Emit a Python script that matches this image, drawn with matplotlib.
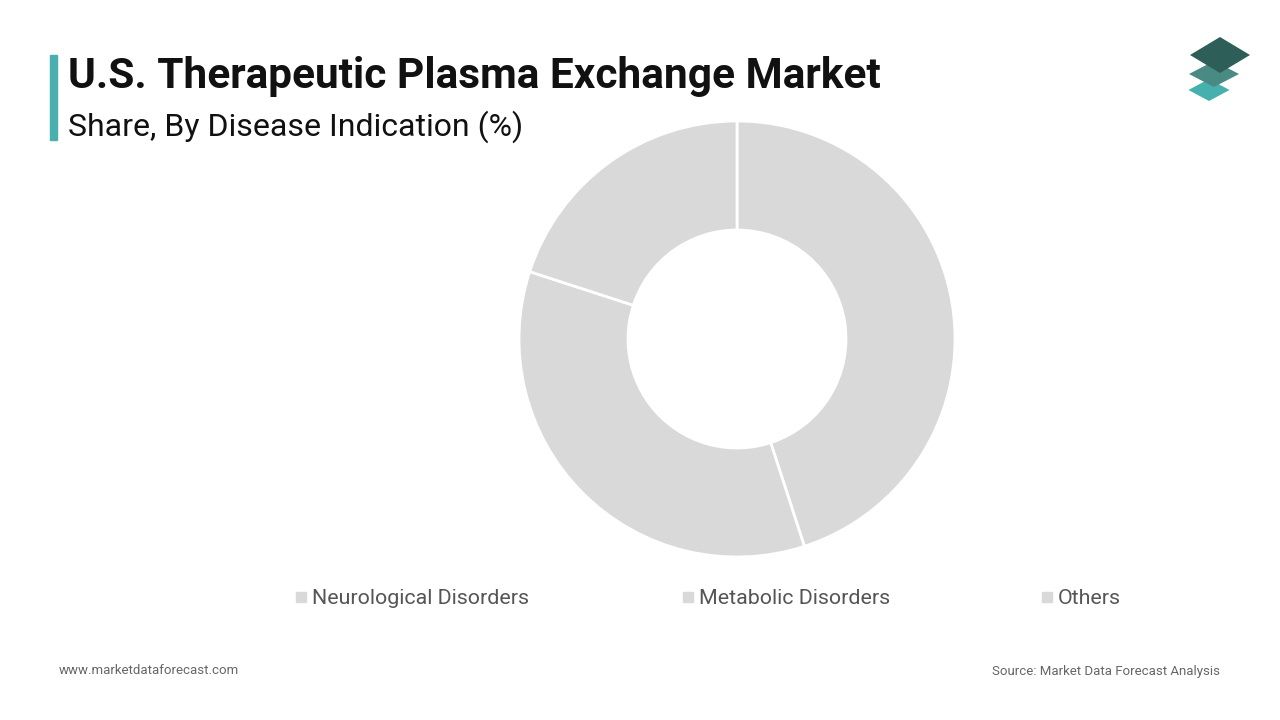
import matplotlib
matplotlib.use("Agg")
import matplotlib.pyplot as plt
from matplotlib.patches import Rectangle, Polygon

plt.rcParams['font.family'] = ['Roboto', 'DejaVu Sans']

categories = ["Neurological Disorders", "Metabolic Disorders", "Others"]
shares = [45, 35, 20]
slice_colors = ["#d9d9d9", "#d9d9d9", "#d9d9d9"]
title = "U.S. Therapeutic Plasma Exchange Market"
subtitle = "Share, By Disease Indication (%)"
footer_left = "www.marketdataforecast.com"
footer_right = "Source: Market Data Forecast Analysis"

W, H = 1280, 720
fig = plt.figure(figsize=(W / 100, H / 100), dpi=100)
fig.patch.set_facecolor("white")

# donut
cx, cy, R = 737, 339, 218
ax = fig.add_axes([(cx - R) / W, (H - cy - R) / H, 2 * R / W, 2 * R / H])
ax.pie(shares, colors=slice_colors, startangle=90, counterclock=False, radius=1,
       wedgeprops=dict(width=109 / 218, edgecolor="white", linewidth=2))
ax.set_xlim(-1, 1)
ax.set_ylim(-1, 1)
ax.set_aspect("auto")
ax.axis("off")

# accent bar
fig.patches.append(Rectangle((50 / W, (H - 140) / H), 7 / W, 85 / H,
                             transform=fig.transFigure, color="#4aafae"))

fig.text(68 / W, (H - 88) / H, title, fontsize=30.5, fontweight="bold",
         color="#111111", va="baseline", ha="left")
fig.text(68 / W, (H - 136) / H, subtitle, fontsize=23,
         color="#111111", va="baseline", ha="left")

# legend
leg_x = [296, 683, 1042]
for x, lab, col in zip(leg_x, categories, slice_colors):
    fig.patches.append(Rectangle((x / W, (H - 602) / H), 10 / W, 10 / H,
                                 transform=fig.transFigure, color=col))
    fig.text((x + 16) / W, (H - 598) / H, lab, fontsize=15.4, color="#555555",
             va="center", ha="left")

fig.text(59 / W, (H - 671) / H, footer_left, fontsize=9.5, color="#666666",
         va="center", ha="left")
fig.text(1220 / W, (H - 671) / H, footer_right, fontsize=9.5, color="#666666",
         va="center", ha="right")

# logo
def diamond(xc, yc, w, h, color):
    pts = [((xc - w / 2) / W, (H - yc) / H), (xc / W, (H - yc + h / 2) / H),
           ((xc + w / 2) / W, (H - yc) / H), (xc / W, (H - yc - h / 2) / H)]
    fig.patches.append(Polygon(pts, closed=True, transform=fig.transFigure,
                               facecolor=color, edgecolor="none"))

diamond(1209, 90, 41, 22, "#45b0ad")
diamond(1214, 74, 50, 26, "#4a8a84")
diamond(1220, 55, 60, 36, "#2e5e58")

fig.savefig("out.png", dpi=100)
